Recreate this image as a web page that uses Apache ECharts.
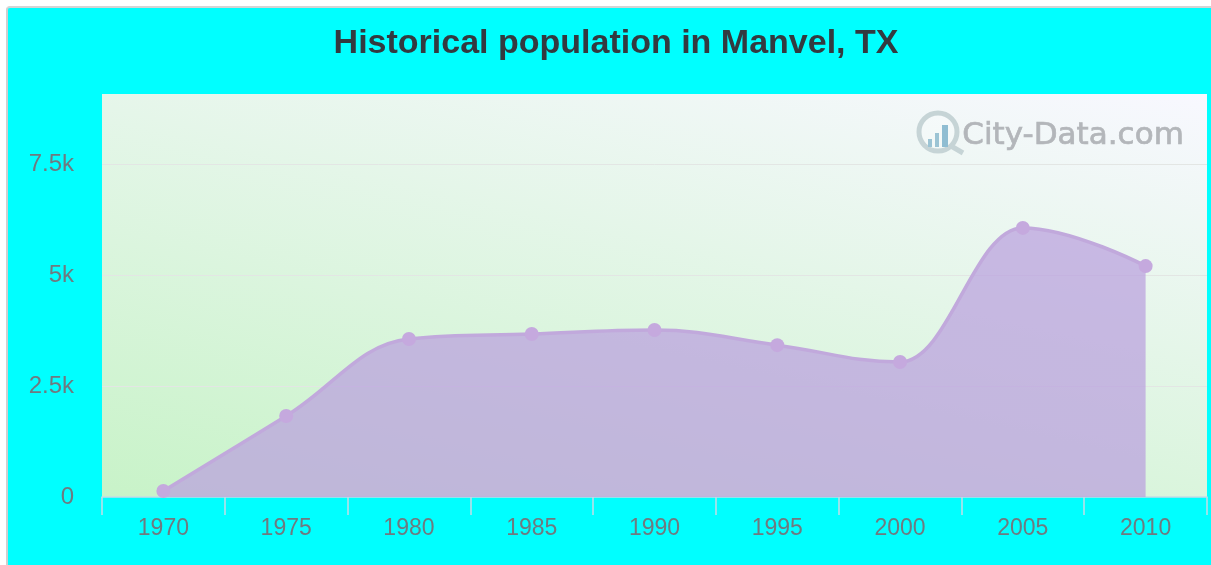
<!DOCTYPE html>
<html>
<head>
<meta charset="utf-8">
<script src="https://cdn.jsdelivr.net/npm/echarts@6/dist/echarts.min.js"></script>
<style>
html,body{margin:0;padding:0;width:100%;height:100%;background:#fff;overflow:hidden}
#frame{position:absolute;left:6px;top:6px;width:1300px;height:700px;background:#00ffff;border-left:2px solid #cfcfcf;border-top:2px solid #d4d4d4;border-top-left-radius:4px}
#chart{position:absolute;left:0;top:0;width:1211px;height:565px;filter:blur(0.45px)}
</style>
</head>
<body>
<div id="frame"></div>
<div id="chart"></div>
<script>
const titleText = 'Historical population in Manvel, TX';
const watermarkText = 'City-Data.com';
const years = ['1970','1975','1980','1985','1990','1995','2000','2005','2010'];
const population = [135,1825,3560,3670,3760,3420,3040,6060,5200];
const yMax = 9076;
const yInterval = 2500;
const tickFormat = v => v === 0 ? '0' : (v / 1000) + 'k';
const labelFont = 'Liberation Sans';

// Spline through the data points: tangents follow the neighbours, flattened at local extremes.
function splinePath(pts) {
  const s = 1.5, d = s + 1;
  const ctrl = pts.map((p, i) => {
    if (i === 0 || i === pts.length - 1) return {l: p, r: p};
    const a = pts[i - 1], b = pts[i + 1];
    const lx = (s * p[0] + a[0]) / d, rx = (s * p[0] + b[0]) / d;
    let ly = (s * p[1] + a[1]) / d, ry = (s * p[1] + b[1]) / d;
    const corr = (ry - ly) * (rx - p[0]) / (rx - lx) + p[1] - ry;
    ly += corr; ry += corr;
    if (ly > a[1] && ly > p[1]) { ly = Math.max(a[1], p[1]); ry = 2 * p[1] - ly; }
    else if (ly < a[1] && ly < p[1]) { ly = Math.min(a[1], p[1]); ry = 2 * p[1] - ly; }
    if (ry > b[1] && ry > p[1]) { ry = Math.max(b[1], p[1]); ly = 2 * p[1] - ry; }
    else if (ry < b[1] && ry < p[1]) { ry = Math.min(b[1], p[1]); ly = 2 * p[1] - ry; }
    return {l: [lx, ly], r: [rx, ry]};
  });
  let path = 'M' + pts[0][0] + ' ' + pts[0][1];
  for (let i = 1; i < pts.length; i++) {
    const c1 = ctrl[i - 1].r, c2 = ctrl[i].l, p = pts[i];
    path += ' C' + [c1[0], c1[1], c2[0], c2[1], p[0], p[1]].join(' ');
  }
  return path;
}

function renderCurve(params, api) {
  if (params.dataIndex !== 0) return null;
  const pts = population.map((v, i) => api.coord([i, v]));
  const base = api.coord([0, 0])[1];
  const line = splinePath(pts);
  const area = line + ' L' + pts[pts.length - 1][0] + ' ' + base + ' L' + pts[0][0] + ' ' + base + ' Z';
  return {type: 'group', children: [
    {type: 'path', shape: {pathData: area},
      style: {fill: 'rgba(186,160,222,0.72)', stroke: null}},
    {type: 'path', shape: {pathData: line},
      style: {fill: null, stroke: '#c1a9dc', lineWidth: 3.5}}
  ]};
}

const chart = echarts.init(document.getElementById('chart'), null, {renderer:'canvas'});
chart.setOption({
  animation:false,
  backgroundColor:'transparent',
  title:{
    text:titleText,left:611,top:22,textAlign:'center',
    textStyle:{fontFamily:'Liberation Sans',fontWeight:'bold',fontSize:34,color:'#333a40'}
  },
  grid:{
    show:true,left:102,right:4,top:94,bottom:68,borderWidth:0,
    backgroundColor:{type:'linear',global:true,x:102,y:497,x2:240,y2:-121,
      colorStops:[{offset:0,color:'#c8f3c8'},{offset:1,color:'#f8f8ff'}]}
  },
  xAxis:{
    type:'category',data:years,boundaryGap:true,
    axisLine:{lineStyle:{color:'#c5dbe6',width:1.5}},
    axisTick:{show:true,length:18,alignWithLabel:false,lineStyle:{color:'#c5dbe6',width:1.5}},
    axisLabel:{margin:20,fontFamily:labelFont,fontSize:23,color:'#6f7a80'},
    splitLine:{show:false}
  },
  yAxis:{
    type:'value',min:0,max:yMax,interval:yInterval,
    axisLine:{show:false},axisTick:{show:false},
    axisLabel:{margin:28,showMaxLabel:false,padding:[6,0,0,0],fontFamily:labelFont,fontSize:24,color:'#6f7a80',formatter:tickFormat},
    splitLine:{show:true,showMinLine:false,showMaxLine:false,lineStyle:{color:'#e3e6e4',width:1}}
  },
  series:[
    {type:'custom',data:population,renderItem:renderCurve,coordinateSystem:'cartesian2d',silent:true,z:2},
    {type:'line',data:population,smooth:false,symbol:'circle',symbolSize:14,showSymbol:true,
      lineStyle:{width:0,opacity:0},itemStyle:{color:'#c5a9de'},z:3}
  ],
  graphic:[
    {type:'text',z:5,left:962,top:120,style:{text:watermarkText,font:'31px "DejaVu Sans"',fill:'#b3b6ba',stroke:'#b3b6ba',lineWidth:0.7}},
    {type:'circle',z:5,shape:{cx:938,cy:132,r:19},style:{fill:'rgba(255,255,255,0.25)',stroke:'#c6d4d6',lineWidth:5}},
    {type:'line',z:5,shape:{x1:951,y1:146,x2:963,y2:153},style:{stroke:'#c6d4d6',lineWidth:5}},
    {type:'rect',z:5,shape:{x:928,y:139,width:4,height:8},style:{fill:'#9cc4d4'}},
    {type:'rect',z:5,shape:{x:935,y:133,width:4,height:14},style:{fill:'#9cc4d4'}},
    {type:'rect',z:5,shape:{x:942,y:125,width:6,height:22},style:{fill:'#8fbdd2'}}
  ]
});
</script>
</body>
</html>
